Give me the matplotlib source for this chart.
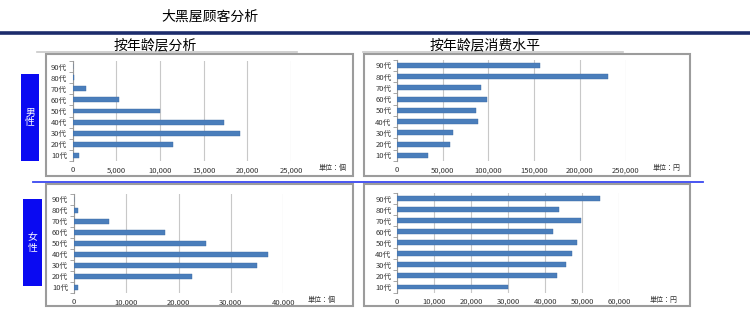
import matplotlib
matplotlib.use("Agg")
import matplotlib.pyplot as plt
from matplotlib.lines import Line2D
from matplotlib.patches import Rectangle
from matplotlib.ticker import FuncFormatter, FixedLocator

plt.rcParams['font.family'] = ['Noto Sans CJK JP', 'DejaVu Sans']

W, H = 750, 309

age_groups = ['10代', '20代', '30代', '40代', '50代', '60代', '70代', '80代', '90代']

# 男性
male_count = [720, 11500, 19200, 17300, 10050, 5300, 1550, 200, 0]
male_spend = [34000, 58000, 61000, 88000, 86000, 98000, 92000, 231000, 156000]
# 女性
female_count = [800, 22600, 34900, 37000, 25300, 17400, 6700, 900, 150]
female_spend = [30000, 43300, 45700, 47200, 48500, 42000, 49600, 43600, 54800]

title = '大黑屋顾客分析'
subtitle_left = '按年龄层分析'
subtitle_right = '按年龄层消费水平'
unit_count = '単位：個'
unit_yen = '単位：円'

BAR_COLOR = '#4a7ebb'
LABEL_BLUE = '#0a0af2'


def fx(x):
    return x / W


def fy(y):
    return 1 - y / H


def box(x0, y0, x1, y1):
    # pixel box (top-left origin) -> figure fraction rect
    return [fx(x0), fy(y1), fx(x1 - x0), (y1 - y0) / H]


fig = plt.figure(figsize=(W / 100, H / 100), dpi=100)

# header
fig.text(fx(210), fy(17), title, ha='center', va='center', fontsize=10,
         family=['Noto Sans CJK SC', 'DejaVu Sans'])
fig.add_artist(Line2D([0, 1], [fy(32.5), fy(32.5)], color='#1c2c6c', lw=2.6))

# subtitles with gray underline
fig.text(fx(155), fy(45), subtitle_left, ha='center', va='center', fontsize=10,
         family=['Noto Sans CJK SC', 'DejaVu Sans'])
fig.text(fx(485), fy(45.5), subtitle_right, ha='center', va='center', fontsize=10,
         family=['Noto Sans CJK SC', 'DejaVu Sans'])
fig.add_artist(Line2D([fx(37), fx(297)], [fy(52), fy(52)], color='#c8c8c8', lw=1.2))
fig.add_artist(Line2D([fx(363), fx(623)], [fy(52), fy(52)], color='#c8c8c8', lw=1.2))

# blue separator
fig.add_artist(Line2D([fx(33), fx(703)], [fy(182), fy(182)], color='#3a48f0', lw=1.3))

# panel frames
for (x0, y0, x1, y1) in [(46, 54, 353, 176), (364, 54, 690, 176),
                         (46, 184, 353, 306), (364, 184, 690, 306)]:
    fig.add_artist(Rectangle((fx(x0), fy(y1)), fx(x1 - x0), (y1 - y0) / H,
                             transform=fig.transFigure, fill=False,
                             edgecolor='#9c9c9c', lw=1.5))

# gender labels
for (x0, y0, x1, y1), txt in [((21, 74, 39, 161), '男\n性'), ((23, 199, 42, 286), '女\n性')]:
    fig.add_artist(Rectangle((fx(x0), fy(y1)), fx(x1 - x0), (y1 - y0) / H,
                             transform=fig.transFigure, facecolor=LABEL_BLUE,
                             edgecolor='none'))
    fig.text(fx((x0 + x1) / 2), fy((y0 + y1) / 2), txt, ha='center', va='center',
             color='white', fontsize=7, linespacing=1.0)


def bar_panel(rect, values, xmax, step, unit, unit_x, tick_y):
    ax = fig.add_axes(box(*rect))
    ypos = list(range(len(age_groups)))
    ax.barh(ypos, values, height=0.45, color=BAR_COLOR, edgecolor='#3d6aa3', lw=0.3, zorder=3)
    ax.set_xlim(0, xmax)
    ax.set_ylim(-0.5, len(age_groups) - 0.5)
    ax.set_xticks(range(0, xmax + 1, step))
    ax.xaxis.set_major_formatter(FuncFormatter(lambda v, p: f'{int(v):,}'))
    ax.set_yticks(ypos)
    ax.set_yticklabels(age_groups)
    ax.yaxis.set_minor_locator(FixedLocator([i - 0.5 for i in range(len(age_groups) + 1)]))
    ax.tick_params(axis='y', which='major', length=0, labelsize=5.5, pad=4, colors='#333333')
    ax.tick_params(axis='y', which='minor', length=3, color='#999999', width=0.6)
    ax.tick_params(axis='x', length=0, labelsize=5.5, pad=4, colors='#333333')
    ax.grid(axis='x', color='#c8c8c8', lw=0.8, zorder=0)
    for s in ['top', 'right', 'bottom']:
        ax.spines[s].set_visible(False)
    ax.spines['left'].set_color('#999999')
    ax.spines['left'].set_linewidth(0.8)
    ax.patch.set_alpha(0)
    fig.text(fx(unit_x), fy(tick_y), unit, ha='left', va='center', fontsize=5, color='#333333')
    return ax


bar_panel((72.7, 61.2, 291, 160.8), male_count, 25000, 5000, unit_count, 319, 168)
bar_panel((397, 59.7, 625.7, 160.9), male_spend, 250000, 50000, unit_yen, 653, 168)
bar_panel((73.7, 193.8, 283.3, 292.8), female_count, 40000, 10000, unit_count, 308, 300)
bar_panel((397, 193.2, 619.3, 292.5), female_spend, 60000, 10000, unit_yen, 650, 300)

fig.savefig('out.png', dpi=100)
